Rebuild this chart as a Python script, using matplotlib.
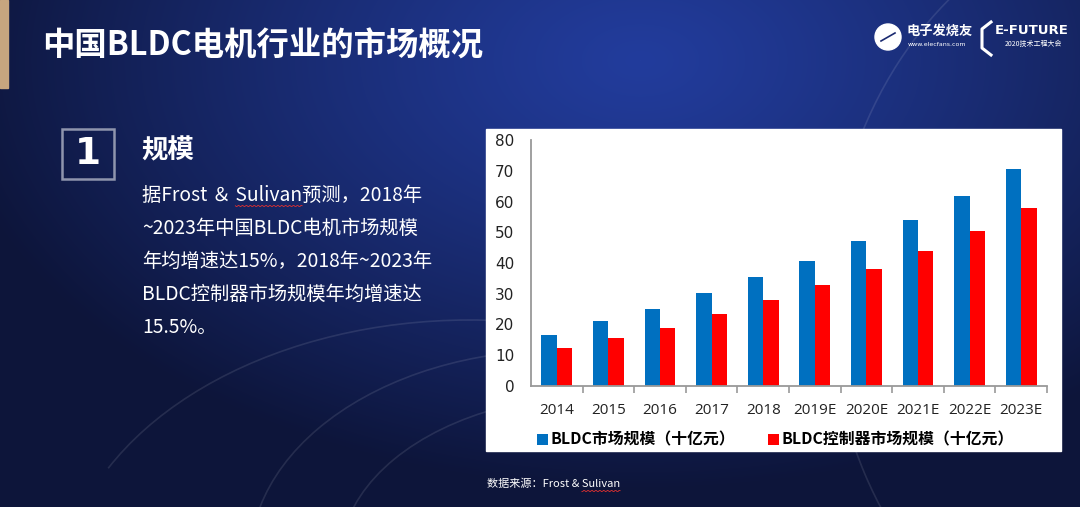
import numpy as np
import matplotlib.pyplot as plt
from matplotlib.patches import Rectangle, Circle, Arc

plt.rcParams['font.family'] = ['Noto Sans CJK SC', 'DejaVu Sans']

# data
years = ['2014', '2015', '2016', '2017', '2018', '2019E', '2020E', '2021E', '2022E', '2023E']
bldc_motor = [16.7, 21.0, 25.0, 30.2, 35.4, 40.7, 47.0, 54.0, 61.8, 70.7]
bldc_ctrl = [12.4, 15.7, 18.7, 23.4, 28.1, 32.9, 38.1, 44.0, 50.5, 57.9]
legend_labels = ['BLDC市场规模（十亿元）', 'BLDC控制器市场规模（十亿元）']
y_ticks = [0, 10, 20, 30, 40, 50, 60, 70, 80]

title = '中国BLDC电机行业的市场概况'
section = '规模'
body_lines = [
    '据Frost ＆ Sulivan预测，2018年',
    '~2023年中国BLDC电机市场规模',
    '年均增速达15%，2018年~2023年',
    'BLDC控制器市场规模年均增速达',
    '15.5%。',
]
source = '数据来源：Frost & Sulivan'

W, H = 1080, 507
fig = plt.figure(figsize=(W / 100, H / 100), dpi=100)
renderer = fig.canvas.get_renderer()

# background in pixel coordinates
bg = fig.add_axes([0, 0, 1, 1])
yy, xx = np.mgrid[0:H, 0:W]
d = np.sqrt(((xx - 640) / 700.0) ** 2 + ((yy - 60) / 430.0) ** 2)
t = np.clip(d, 0, 1)[..., None] ** 1.2
c0 = np.array([0x22, 0x3c, 0x9c]) / 255.0
c1 = np.array([0x0d, 0x15, 0x3a]) / 255.0
bg.imshow(c0 * (1 - t) + c1 * t, extent=[0, W, H, 0], aspect='auto', zorder=0)

# faint swirls
for (cx, cy, w, h, a1, a2) in [(560, 560, 620, 420, 190, 300),
                               (600, 560, 520, 330, 185, 320),
                               (470, 600, 820, 560, 200, 290),
                               (1180, 300, 700, 800, 120, 250),
                               (330, -60, 900, 500, 330, 360)]:
    bg.add_patch(Arc((cx, cy), w, h, theta1=a1, theta2=a2, color='white',
                     alpha=0.10, lw=1.2, zorder=1))

bg.set_xlim(0, W)
bg.set_ylim(H, 0)
bg.axis('off')


def text_width(s, size):
    tmp = fig.text(0, 0, s, fontsize=size)
    w = tmp.get_window_extent(renderer).width
    tmp.remove()
    return w


def squiggle(x0, x1, y):
    xs = np.linspace(x0, x1, int(x1 - x0))
    bg.plot(xs, y + 0.7 * np.sin(xs * 1.6), color='#e03030', lw=0.6, zorder=3)


# tan side bar
bg.add_patch(Rectangle((0, 0), 8, 88, color='#c7a57f', zorder=2))

bg.text(42, 46, title, fontsize=23.3, fontweight='bold', color='white', va='center', zorder=3)

# logos
bg.add_patch(Circle((888, 37), 13, color='white', zorder=3))
bg.plot([881, 895], [41, 33], color='#1a2a70', lw=1.2, zorder=4)
bg.text(907, 31, '电子发烧友', fontsize=9.5, fontweight='bold', color='white', va='center', zorder=3)
bg.text(908, 44, 'www.elecfans.com', fontsize=4.5, color='white', va='center',
        family=['DejaVu Sans'], zorder=3)
bg.plot([991, 982, 982, 991], [22, 29, 48, 55], color='white', lw=2.2, zorder=3)
bg.text(995, 31, 'E-FUTURE', fontsize=9.5, fontweight='bold', color='white', va='center',
        family=['DejaVu Sans'], zorder=3)
bg.text(1005, 44, '2020技术工程大会', fontsize=5, color='white', va='center', zorder=3)

# numbered box and text
bg.add_patch(Rectangle((62, 129), 52, 50, fill=False, ec='#8f95ad', lw=1.8, zorder=3))
bg.text(88, 154, '1', fontsize=27, fontweight='bold', color='white', ha='center', va='center',
        family=['DejaVu Sans'], zorder=3)
bg.text(141, 151, section, fontsize=19, fontweight='bold', color='white', va='center', zorder=3)
body_size = 13.9
for i, line in enumerate(body_lines):
    bg.text(142, 195 + i * 33.2, line, fontsize=body_size, color='white', va='center', zorder=3)
sx0 = 142 + text_width('据Frost ＆ ', body_size)
sx1 = 142 + text_width('据Frost ＆ Sulivan', body_size)
squiggle(sx0, sx1, 206)

bg.text(487, 484, source, fontsize=8, color='white', va='center', zorder=3)
squiggle(487 + text_width('数据来源：Frost & ', 8), 487 + text_width(source, 8), 491)

# white chart panel
bg.add_patch(Rectangle((486, 129), 575, 322, color='white', zorder=2))

# chart
ax = fig.add_axes([531 / W, (H - 386) / H, 516 / W, 246 / H])
ax.set_zorder(5)
ax.patch.set_alpha(0)
x = np.arange(len(years))
bw = 0.30
ax.bar(x - bw / 2, bldc_motor, bw, color='#0070c0', label=legend_labels[0])
ax.bar(x + bw / 2, bldc_ctrl, bw, color='#ff0000', label=legend_labels[1])
ax.set_xlim(-0.5, len(years) - 0.5)
ax.set_ylim(0, 80)
ax.set_yticks(y_ticks)
ax.set_yticklabels([str(v) for v in y_ticks], family=['DejaVu Sans'])
ax.set_xticks(x)
ax.set_xticklabels(years, family=['Open Sans', 'DejaVu Sans'])
ax.set_xticks(np.arange(len(years)) + 0.5, minor=True)
ax.tick_params(axis='y', length=0, pad=12, labelsize=11, colors='#222222')
ax.tick_params(axis='x', which='major', length=0, pad=12, labelsize=11, colors='#222222')
ax.tick_params(axis='x', which='minor', length=5, width=1.2, color='#999999', direction='out')
for s in ['top', 'right']:
    ax.spines[s].set_visible(False)
for s in ['left', 'bottom']:
    ax.spines[s].set_color('#999999')
    ax.spines[s].set_linewidth(1.3)

ax.legend(loc='center', bbox_to_anchor=(0.474, -0.218), ncol=2, frameon=False,
          prop={'size': 11.4, 'weight': 'bold'}, handlelength=0.7, handleheight=0.7,
          handletextpad=0.12, columnspacing=2.1, borderaxespad=0)

fig.savefig('out.png', dpi=100)
